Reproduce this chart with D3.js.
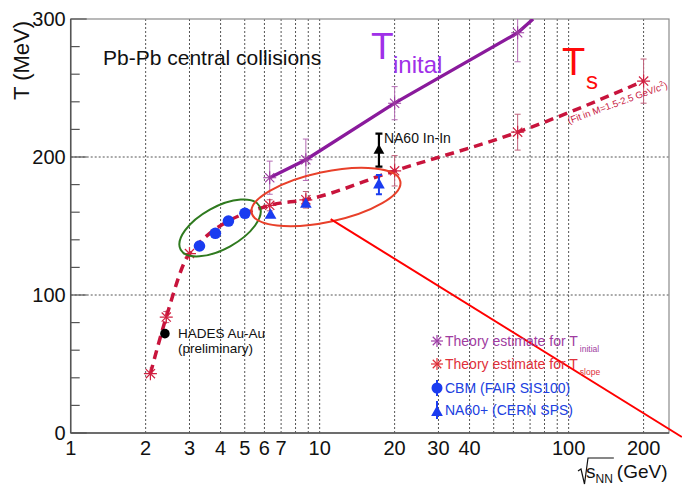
<!DOCTYPE html>
<html>
<head>
<meta charset="utf-8">
<script src="https://cdn.jsdelivr.net/npm/d3@7"></script>
<style>
  html, body { margin: 0; padding: 0; background: #fff; }
  svg { display: block; font-family: "Liberation Sans", Arial, sans-serif; }
</style>
</head>
<body>
<svg id="chart" width="682" height="504"></svg>
<script>
// ---- data (sqrt(s_NN) in GeV, temperature in MeV) ----
const tsX   = [2.09, 2.42, 3.0, 6.3, 8.8, 20, 62.4, 200];
const tsY   = [43, 84, 130, 165, 169, 190, 218, 255];
const tsErr = [0, 4, 0, 4, 6, 11, 13, 16];

const tiX   = [6.3, 8.8, 20, 62.4];
const tiY   = [185, 198, 239, 290];
const tiErr = [12, 15, 12, 21];
// purple trend line continues past the last estimate
const tiLineX = [6.3, 8.8, 20, 62.4, 72];
const tiLineY = [185, 198, 239, 290, 300];

const cbmX = [3.29, 3.81, 4.30, 5.01];
const cbmY = [135.5, 144.7, 153.6, 159.2];

const na60X   = [6.35, 8.8, 17.3];
const na60Y   = [158, 166, 180];
const na60Err = [0, 0, 7];

const hadesX = [2.39];
const hadesY = [72];

const na60InX   = [17.3];
const na60InY   = [205];
const na60InErr = [12];

const xTicks = [1, 2, 3, 4, 5, 6, 7, 10, 20, 30, 40, 100, 200];
const xGrid  = [2, 3, 4, 5, 6, 7, 8, 9, 10, 20, 30, 40, 50, 60, 70, 80, 90, 100, 200];
const yTicks = [0, 100, 200, 300];

// ---- layout ----
const svg = d3.select("#chart");
const x = d3.scaleLog().domain([1, 253]).range([70.7, 669]);
const y = d3.scaleLinear().domain([0, 300]).range([433, 19]);
const X0 = x.range()[0], X1 = x.range()[1], Y0 = y.range()[0], Y1 = y.range()[1];

svg.append("defs").append("clipPath").attr("id", "plotclip")
  .append("rect").attr("x", X0).attr("y", Y1).attr("width", X1 - X0).attr("height", Y0 - Y1);

// grid
const grid = svg.append("g").attr("stroke", "#555").attr("stroke-width", 1)
  .attr("stroke-dasharray", "2,2");
grid.selectAll("line.v").data(xGrid).join("line")
  .attr("x1", d => x(d)).attr("x2", d => x(d)).attr("y1", Y1).attr("y2", Y0);
grid.selectAll("line.h").data([100, 200]).join("line")
  .attr("x1", X0).attr("x2", X1).attr("y1", d => y(d)).attr("y2", d => y(d));

// frame
svg.append("rect").attr("x", X0).attr("y", Y1).attr("width", X1 - X0).attr("height", Y0 - Y1)
  .attr("fill", "none").attr("stroke", "#8a8a8a").attr("stroke-width", 1.2);
svg.append("line").attr("x1", X0).attr("x2", X0).attr("y1", Y1).attr("y2", Y0)
  .attr("stroke", "#555").attr("stroke-width", 1.5);
svg.append("line").attr("x1", X0).attr("x2", X1).attr("y1", Y0).attr("y2", Y0)
  .attr("stroke", "#555").attr("stroke-width", 1.5);

// y ticks (inside)
const yMinor = d3.range(0, 301, 20);
svg.append("g").selectAll("line").data(yMinor).join("line")
  .attr("x1", X0).attr("x2", d => X0 + (d % 100 === 0 ? 16 : 9))
  .attr("y1", d => y(d)).attr("y2", d => y(d))
  .attr("stroke", "#555").attr("stroke-width", 1.2);

// tick labels
svg.append("g").selectAll("text").data(yTicks).join("text")
  .attr("x", X0 - 5).attr("y", d => y(d) + 7)
  .attr("text-anchor", "end").attr("font-size", 20).attr("fill", "#111")
  .text(d => d);
svg.append("g").selectAll("text").data(xTicks).join("text")
  .attr("x", d => x(d)).attr("y", 455)
  .attr("text-anchor", "middle").attr("font-size", 20).attr("fill", "#111")
  .text(d => d);

// axis titles
svg.append("text").attr("transform", "translate(29,100) rotate(-90)")
  .attr("font-size", 22).attr("fill", "#111").text("T (MeV)");

const xt = svg.append("g").attr("fill", "#111");
const sTxt = xt.append("text").attr("x", 586).attr("y", 478).attr("font-size", 19).text("s");
const sW = sTxt.node().getComputedTextLength();
const nnTxt = xt.append("text").attr("x", 586 + sW).attr("y", 483).attr("font-size", 12).text("NN");
const nnW = nnTxt.node().getComputedTextLength();
xt.append("text").attr("x", 586 + sW + nnW + 4).attr("y", 478).attr("font-size", 19).text("(GeV)");
xt.append("path")
  .attr("d", `M578,471 L581,469 L584.5,484 L588,458 L${586 + sW + nnW + 1},458`)
  .attr("fill", "none").attr("stroke", "#111").attr("stroke-width", 1.2);

// plot title
svg.append("text").attr("x", 103).attr("y", 65).attr("font-size", 21).attr("fill", "#111")
  .text("Pb-Pb central collisions");

// ---- marks ----
const plot = svg.append("g").attr("clip-path", "url(#plotclip)");
const ts = tsX.map((v, i) => ({ x: v, y: tsY[i], e: tsErr[i] }));
const ti = tiX.map((v, i) => ({ x: v, y: tiY[i], e: tiErr[i] }));

function errorBars(g, data, color, cap, width) {
  const eb = g.append("g").attr("stroke", color).attr("stroke-width", width || 1);
  data.filter(d => d.e > 0).forEach(d => {
    const cx = x(d.x);
    eb.append("line").attr("x1", cx).attr("x2", cx).attr("y1", y(d.y - d.e)).attr("y2", y(d.y + d.e));
    eb.append("line").attr("x1", cx - cap).attr("x2", cx + cap).attr("y1", y(d.y - d.e)).attr("y2", y(d.y - d.e));
    eb.append("line").attr("x1", cx - cap).attr("x2", cx + cap).attr("y1", y(d.y + d.e)).attr("y2", y(d.y + d.e));
  });
}
function star(g, cx, cy, r, color, w) {
  const s = g.append("g").attr("stroke", color).attr("stroke-width", w || 1.2);
  [0, 45, 90, 135].forEach(a => {
    const t = a * Math.PI / 180;
    s.append("line").attr("x1", cx - r * Math.cos(t)).attr("y1", cy - r * Math.sin(t))
      .attr("x2", cx + r * Math.cos(t)).attr("y2", cy + r * Math.sin(t));
  });
}
function triangle(g, cx, cy, s, color) {
  g.append("path")
    .attr("d", `M${cx},${cy - s} L${cx + s * 0.9},${cy + s * 0.6} L${cx - s * 0.9},${cy + s * 0.6} Z`)
    .attr("fill", color);
}

// error bars for theory estimates
errorBars(plot, ti, "#b46cb4", 3, 1);
errorBars(plot, ts, "#c0607a", 3, 1);

// T_initial line
plot.append("path")
  .datum(tiLineX.map((v, i) => [v, tiLineY[i]]))
  .attr("d", d3.line().x(d => x(d[0])).y(d => y(d[1])))
  .attr("fill", "none").attr("stroke", "#8a1a9c").attr("stroke-width", 3.3);

// T_slope dashed curve
plot.append("path")
  .datum(ts)
  .attr("d", d3.line().x(d => x(d.x)).y(d => y(d.y)).curve(d3.curveMonotoneX))
  .attr("fill", "none").attr("stroke", "#c8143c").attr("stroke-width", 3.5)
  .attr("stroke-dasharray", "9,6");

ti.forEach(d => star(plot, x(d.x), y(d.y), 6.5, "#9b3aa0", 1.1));
ts.forEach(d => star(plot, x(d.x), y(d.y), 6.5, "#d02040", 1.2));

// CBM
plot.append("g").selectAll("circle").data(cbmX).join("circle")
  .attr("cx", d => x(d)).attr("cy", (d, i) => y(cbmY[i])).attr("r", 5.8).attr("fill", "#1a3cf0");

// NA60+
const na = na60X.map((v, i) => ({ x: v, y: na60Y[i], e: na60Err[i] }));
errorBars(plot, na, "#1a3cf0", 3, 2);
na.forEach(d => triangle(plot, x(d.x), y(d.y), 6.5, "#1a3cf0"));

// NA60 In-In
const nin = na60InX.map((v, i) => ({ x: v, y: na60InY[i], e: na60InErr[i] }));
errorBars(plot, nin, "#000", 3.5, 2.2);
nin.forEach(d => triangle(plot, x(d.x), y(d.y), 6, "#000"));
svg.append("text").attr("x", x(na60InX[0]) + 5).attr("y", 143).attr("font-size", 14)
  .attr("fill", "#111").text("NA60 In-In");

// HADES
plot.append("g").selectAll("circle").data(hadesX).join("circle")
  .attr("cx", d => x(d)).attr("cy", (d, i) => y(hadesY[i])).attr("r", 4.8).attr("fill", "#000");
svg.append("text").attr("x", 178).attr("y", 338).attr("font-size", 13.5).attr("fill", "#111").text("HADES Au-Au");
svg.append("text").attr("x", 178).attr("y", 353).attr("font-size", 13.5).attr("fill", "#111").text("(preliminary)");

// ---- highlight ellipses and pointer line ----
const greenC = [3.98, 148.6], redC = [10.6, 171];
svg.append("ellipse").attr("cx", 0).attr("cy", 0).attr("rx", 45).attr("ry", 21)
  .attr("transform", `translate(${x(greenC[0])},${y(greenC[1])}) rotate(-29)`)
  .attr("fill", "none").attr("stroke", "#2f7a1f").attr("stroke-width", 2);
svg.append("ellipse").attr("cx", 0).attr("cy", 0).attr("rx", 76).attr("ry", 25)
  .attr("transform", `translate(${x(redC[0])},${y(redC[1])}) rotate(-12)`)
  .attr("fill", "none").attr("stroke", "#e8402a").attr("stroke-width", 2);
const pointer = [[11.07, 155], [285, -2.9]];
svg.append("line")
  .attr("x1", x(pointer[0][0])).attr("y1", y(pointer[0][1]))
  .attr("x2", x(pointer[1][0])).attr("y2", y(pointer[1][1]))
  .attr("stroke", "#ff0000").attr("stroke-width", 2);

// ---- big labels ----
svg.append("text").attr("x", 371).attr("y", 59).attr("font-size", 37).attr("fill", "#a030e8").text("T");
svg.append("text").attr("x", 393).attr("y", 73).attr("font-size", 24).attr("fill", "#a030e8").text("inital");
svg.append("text").attr("x", 562).attr("y", 75).attr("font-size", 38).attr("fill", "#ff0a0a").text("T");
svg.append("text").attr("x", 586).attr("y", 89).attr("font-size", 24).attr("fill", "#ff0a0a").text("s");

const fit = svg.append("text").attr("transform", "translate(569,124) rotate(-20)")
  .attr("font-size", 9.5).attr("fill", "#c8143c");
fit.append("tspan").text("(Fit in M=1.5-2.5 GeV/c");
fit.append("tspan").attr("font-size", 7).attr("dy", -4).text("2");
fit.append("tspan").attr("dy", 4).text(")");

// ---- legend ----
const lg = svg.append("g");
const lx = 437, tx = 445;
star(lg, lx, 341, 6, "#a040a8", 1.2);
const l1 = lg.append("text").attr("x", tx).attr("y", 346).attr("font-size", 14).attr("fill", "#a03ca0");
l1.append("tspan").text("Theory estimate for T");
l1.append("tspan").attr("font-size", 8.5).attr("dy", 6).attr("dx", 2).text("initial");
star(lg, lx, 364, 6, "#e0303a", 1.2);
const l2 = lg.append("text").attr("x", tx).attr("y", 369).attr("font-size", 14).attr("fill", "#e0303a");
l2.append("tspan").text("Theory estimate for T");
l2.append("tspan").attr("font-size", 8.5).attr("dy", 6).attr("dx", 2).text("slope");
lg.append("line").attr("x1", lx).attr("x2", lx).attr("y1", 380).attr("y2", 396).attr("stroke", "#1a3cf0").attr("stroke-width", 2);
lg.append("circle").attr("cx", lx).attr("cy", 388).attr("r", 5.5).attr("fill", "#1a3cf0");
lg.append("text").attr("x", tx).attr("y", 393).attr("font-size", 14).attr("fill", "#2040e0").text("CBM (FAIR SIS100)");
lg.append("line").attr("x1", lx).attr("x2", lx).attr("y1", 401).attr("y2", 419).attr("stroke", "#1a3cf0").attr("stroke-width", 2);
triangle(lg, lx, 412, 6.5, "#1a3cf0");
lg.append("text").attr("x", tx).attr("y", 415).attr("font-size", 14).attr("fill", "#2040e0").text("NA60+ (CERN SPS)");
</script>
</body>
</html>
